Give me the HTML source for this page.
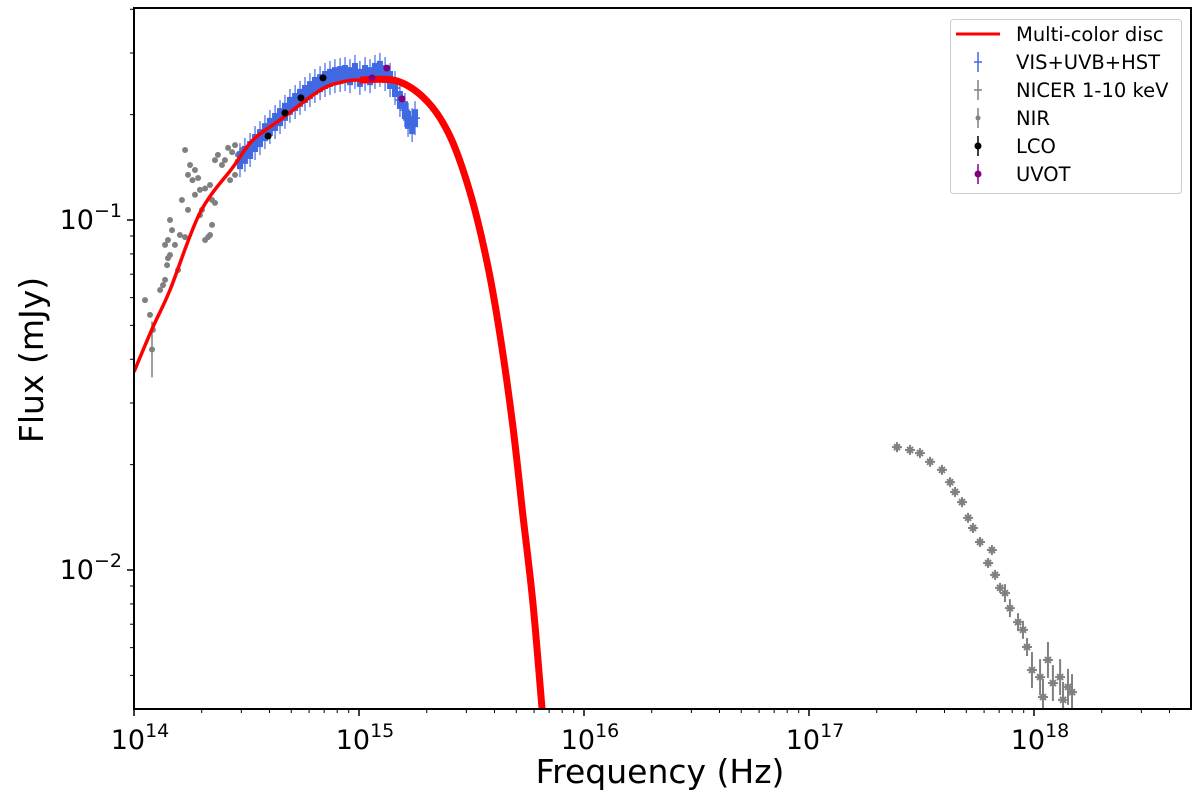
<!DOCTYPE html>
<html><head><meta charset="utf-8"><style>
html,body{margin:0;padding:0;background:#fff;}
svg{display:block;font-family:"DejaVu Sans","Liberation Sans",sans-serif;}
</style></head><body>
<svg id="chart" width="1200" height="800" viewBox="0 0 1200 800">
<g id="plot"></g>
<g id="axes"></g>
<text x="660" y="783" font-size="33" text-anchor="middle">Frequency (Hz)</text>
<text transform="translate(43,360) rotate(-90)" font-size="33" text-anchor="middle">Flux (mJy)</text>
<g font-size="19.5">
<rect x="950.5" y="19.5" width="231" height="174" rx="3" fill="#fff" stroke="#ccc"/>
<g><line x1="956" y1="34" x2="1000" y2="34" stroke="red" stroke-width="3"/><text x="1016" y="41">Multi-color disc</text></g>
<g><line x1="978" y1="52" x2="978" y2="72" stroke="#4169e1" stroke-width="1.5"/><line x1="974" y1="62" x2="982" y2="62" stroke="#4169e1" stroke-width="1.5"/><text x="1016" y="69">VIS+UVB+HST</text></g>
<g><line x1="978" y1="80" x2="978" y2="100" stroke="#808080" stroke-width="1.5"/><line x1="974" y1="90" x2="982" y2="90" stroke="#808080" stroke-width="1.5"/><text x="1016" y="97">NICER 1-10 keV</text></g>
<g><line x1="978" y1="108" x2="978" y2="128" stroke="#808080" stroke-width="1.5"/><circle cx="978" cy="118" r="2.5" fill="#808080"/><text x="1016" y="125">NIR</text></g>
<g><line x1="978" y1="136" x2="978" y2="156" stroke="#000" stroke-width="1.5"/><circle cx="978" cy="146" r="3.5" fill="#000"/><text x="1016" y="153">LCO</text></g>
<g><line x1="978" y1="164" x2="978" y2="184" stroke="#800080" stroke-width="1.5"/><circle cx="978" cy="174" r="3.5" fill="#800080"/><text x="1016" y="181">UVOT</text></g>
</g>
</svg>
<script>
// data in log10 units: log10(frequency/Hz), log10(flux/mJy)
const modelLogNu = [14.0,14.084,14.16,14.293,14.44,14.529,14.649,14.827,14.929,15.004,15.169,15.302,15.404,15.493,15.569,15.627,15.684,15.729,15.773,15.813,15.827];
const modelLogF  = [-1.434,-1.306,-1.2,-0.98,-0.849,-0.771,-0.714,-0.629,-0.605,-0.60,-0.603,-0.66,-0.76,-0.92,-1.12,-1.33,-1.59,-1.846,-2.094,-2.391,-2.486];
const nirLogNu = [14.227,14.249,14.24,14.271,14.26,14.285,14.293,14.271,14.316,14.338,14.347,14.36,14.373,14.391,14.404,14.418,14.436,14.449,14.462,14.471,14.48,14.293,14.302,14.24,14.213,14.16,14.169,14.151,14.138,14.16,14.182,14.151,14.147,14.138,14.129,14.316,14.329,14.347,14.36,14.338,14.204,14.227,14.071,14.084,14.049,14.116,14.196,14.427,14.449,14.08];
const nirLogF  = [-0.80,-0.843,-0.871,-0.857,-0.886,-0.88,-0.914,-0.928,-0.91,-0.90,-0.943,-0.829,-0.814,-0.843,-0.829,-0.794,-0.806,-0.786,-0.814,-0.843,-0.80,-0.986,-0.971,-0.971,-0.943,-1.0,-1.029,-1.057,-1.071,-1.1,-1.071,-1.109,-1.129,-1.171,-1.186,-1.057,-1.049,-1.014,-0.951,-1.043,-1.043,-1.049,-1.271,-1.314,-1.229,-1.2,-1.143,-0.886,-0.871,-1.37];
const nirErr   = [0,0,0,0,0,0,0,0,0,0,0,0,0,0,0,0,0,0,0,0,0,0,0,0,0,0,0,0,0,0,0,0,0,0,0,0,0,0,0,0,0,0,0,0,0,0,0,0,0,0.08];
const visLogNu = [14.471,14.493,14.516,14.538,14.56,14.582,14.604,14.627,14.649,14.671,14.693,14.716,14.738,14.76,14.782,14.804,14.827,14.849,14.871,14.893,14.916,14.938,14.96,14.982,15.004,15.027,15.049,15.071,15.093,15.116,15.138,15.16,15.182,15.204,15.218,15.236,15.249];
const visLogF  = [-0.829,-0.814,-0.80,-0.78,-0.766,-0.749,-0.734,-0.72,-0.706,-0.691,-0.674,-0.663,-0.651,-0.64,-0.629,-0.617,-0.609,-0.60,-0.594,-0.589,-0.586,-0.583,-0.589,-0.577,-0.594,-0.583,-0.589,-0.577,-0.571,-0.583,-0.60,-0.623,-0.657,-0.686,-0.714,-0.729,-0.709];
const lcoLogNu = [14.596,14.671,14.742,14.84];
const lcoLogF  = [-0.76,-0.694,-0.651,-0.594];
const uvotLogNu = [15.058,15.124,15.191];
const uvotLogF  = [-0.594,-0.566,-0.654];
const nicerLogNu = [17.391,17.449,17.493,17.538,17.591,17.627,17.649,17.68,17.707,17.729,17.76,17.813,17.796,17.827,17.849,17.871,17.893,17.929,17.951,17.969,17.991,18.027,18.062,18.084,18.116,18.151,18.169,18.04,18.129];
const nicerLogF  = [-1.649,-1.657,-1.666,-1.691,-1.714,-1.749,-1.777,-1.806,-1.851,-1.88,-1.92,-1.943,-1.98,-2.014,-2.051,-2.066,-2.109,-2.149,-2.171,-2.22,-2.286,-2.306,-2.257,-2.323,-2.306,-2.334,-2.349,-2.363,-2.371];
const xTickExp = [14,15,16,17,18];
const yTickExp = [-1,-2];

const L=134,R=1191,T=8,B=709;
function X(l){return L+(l-14)*225;}
function Y(l){return 220-(l+1)*350;}
const NS="http://www.w3.org/2000/svg";
const plot=document.getElementById('plot'), axes=document.getElementById('axes');
function mk(tag,attrs,parent){const e=document.createElementNS(NS,tag);for(const k in attrs)e.setAttribute(k,attrs[k]);parent.appendChild(e);return e;}

const defs=mk('defs',{},document.getElementById('chart'));
const cp=mk('clipPath',{id:'clip'},defs);mk('rect',{x:L,y:T,width:R-L,height:B-T},cp);
plot.setAttribute('clip-path','url(#clip)');

// NIR
nirLogNu.forEach((v,i)=>{const x=X(v),y=Y(nirLogF[i]);
 if(nirErr[i]>0){const ln=mk('line',{x1:x,x2:x,y1:Y(nirLogF[i]+nirErr[i]),y2:Y(nirLogF[i]-nirErr[i]),stroke:'#808080','stroke-width':1.5},plot);
 }
 const c=mk('circle',{cx:x,cy:y,r:3,fill:'#808080'},plot);
 
 });
// VIS band
visLogNu.forEach((v,i)=>{const x=X(v),y=Y(visLogF[i]);
 const g=mk('g',{},plot);
 
 
 mk('rect',{x:x-3,y:y-9,width:6,height:18,fill:'#4169e1'},g);
 mk('line',{x1:x,x2:x,y1:y-17,y2:y+17,stroke:'#4169e1','stroke-width':1.2},g);
 mk('line',{x1:x-5,x2:x+5,y1:y,y2:y,stroke:'#4169e1','stroke-width':1.5},g);});
// model (Catmull-Rom smoothed)
function modelPath(a,b){
 const P=[];for(let i=a;i<=b;i++)P.push([X(modelLogNu[i]),Y(modelLogF[i])]);
 let d='M'+P[0][0].toFixed(1)+','+P[0][1].toFixed(1);
 for(let i=0;i<P.length-1;i++){const p0=P[Math.max(0,i-1)],p1=P[i],p2=P[i+1],p3=P[Math.min(P.length-1,i+2)];
  const c1=[p1[0]+(p2[0]-p0[0])/6,p1[1]+(p2[1]-p0[1])/6],c2=[p2[0]-(p3[0]-p1[0])/6,p2[1]-(p3[1]-p1[1])/6];
  d+='C'+c1[0].toFixed(1)+','+c1[1].toFixed(1)+' '+c2[0].toFixed(1)+','+c2[1].toFixed(1)+' '+p2[0].toFixed(1)+','+p2[1].toFixed(1);}
 return d;}
const m1=mk('path',{d:modelPath(0,10),fill:'none',stroke:'red','stroke-width':3.5,'stroke-linejoin':'round'},plot);


const m2=mk('path',{d:modelPath(9,modelLogNu.length-1),fill:'none',stroke:'red','stroke-width':7,'stroke-linejoin':'round'},plot);


// LCO
lcoLogNu.forEach((v,i)=>{const c=mk('circle',{cx:X(v),cy:Y(lcoLogF[i]),r:3.5,fill:'#000'},plot);
 
 });
uvotLogNu.forEach((v,i)=>{const c=mk('circle',{cx:X(v),cy:Y(uvotLogF[i]),r:3.5,fill:'#800080'},plot);
 
 });
// NICER
nicerLogNu.forEach((v,i)=>{const x=X(v),y=Y(nicerLogF[i]);const e=i>19?18:(i>14?9:5);
 const g=mk('g',{stroke:'#808080','stroke-width':2},plot);
 
 
 mk('line',{x1:x,x2:x,y1:y-e,y2:y+e},g);
 mk('line',{x1:x-5,x2:x+5,y1:y,y2:y},g);
 mk('line',{x1:x-3,x2:x+3,y1:y-3,y2:y+3},g);
 mk('line',{x1:x-3,x2:x+3,y1:y+3,y2:y-3},g);});

// frame
const fr=mk('rect',{x:L,y:T,width:R-L,height:B-T,fill:'none',stroke:'#000','stroke-width':2},axes);

// x ticks
for(let d=14;d<=18;d++){for(let k=1;k<10;k++){const l=d+Math.log10(k);const x=X(l);if(x>R)continue;
 mk('line',{x1:x,x2:x,y1:B,y2:B+(k===1?7:4),stroke:'#000','stroke-width':k===1?1.5:1},axes);}}
xTickExp.forEach(e=>{const t=mk('text',{x:X(e)+6,y:B+40,'font-size':27,'text-anchor':'middle'},axes);
 
 
 t.innerHTML='10<tspan dy="-12" font-size="19">'+e+'</tspan>';});
// y ticks
for(let d=-3;d<=-1;d++){for(let k=1;k<10;k++){const l=d+Math.log10(k);const y=Y(l);if(y<T||y>B)continue;
 mk('line',{x1:L,x2:L-(k===1?7:4),y1:y,y2:y,stroke:'#000','stroke-width':k===1?1.5:1},axes);}}
yTickExp.forEach(e=>{const t=mk('text',{x:L-12,y:Y(e)+9,'font-size':27,'text-anchor':'end'},axes);
 
 
 t.innerHTML='10<tspan dy="-12" font-size="19">\u2212'+(-e)+'</tspan>';});
</script>
</body></html>
